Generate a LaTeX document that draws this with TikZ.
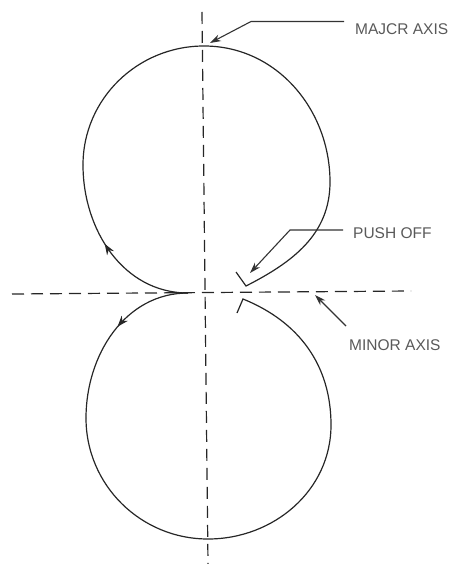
\documentclass[tikz,border=0pt]{standalone}
\usepackage{fontspec}
\setmainfont{Liberation Sans}
\usetikzlibrary{arrows.meta,decorations.markings}
\begin{document}
\begin{tikzpicture}[x=1pt,y=1pt,
 curve/.style={line width=1.2pt, draw=black!85},
 axisline/.style={line width=1.2pt, draw=black!85, dash pattern=on 12pt off 7pt},
 leader/.style={line width=1.1pt, draw=black!80, -{Stealth[length=11pt,width=7pt]}},
 lbl/.style={font=\fontsize{15.5}{18}\selectfont, text=black!65, inner sep=0pt, anchor=west},
 midarrow/.style={postaction={decorate}, decoration={markings, mark=at position #1 with {\arrow{Stealth[length=11pt,width=8pt]}}}}
]
\useasboundingbox (0,0) rectangle (455,-564);
% axes
\coordinate (vtop) at (202,-12);
\coordinate (vbot) at (208,-564);
\coordinate (hl) at (12,-294);
\coordinate (hr) at (411,-291);
\draw[axisline] (vtop) -- (vbot);
\draw[axisline] (hl) -- (hr);
% upper loop
\coordinate (C) at (188,-293);
\coordinate (L) at (83,-165);
\coordinate (T) at (204,-46);
\coordinate (R) at (330,-182);
\coordinate (E) at (246,-286);
\coordinate (Et) at (236,-272);
\draw[curve,midarrow=0.55] (C) to[out=180,in=-90] (L);
\draw[curve] (L) to[out=90,in=180] (T) to[out=0,in=90] (R) to[out=-90,in=27] (E) -- (Et);
% lower loop
\coordinate (L2) at (86,-418);
\coordinate (B) at (208,-539);
\coordinate (R2) at (331,-425);
\coordinate (E2) at (243,-299);
\coordinate (E2t) at (237,-313);
\draw[curve,midarrow=0.45] (C) to[out=180,in=90] (L2);
\draw[curve] (L2) to[out=-90,in=180] (B) to[out=0,in=-90] (R2) to[out=90,in=-22] (E2) -- (E2t);
% labels
\node[lbl] (major) at (355,-29.5) {MAJCR AXIS};
\node[lbl] (push) at (353,-233.5) {PUSH OFF};
\node[lbl] (minor) at (349,-345) {MINOR AXIS};
% leaders
\coordinate (m1) at (344,-21.5);
\coordinate (m2) at (251,-21.5);
\coordinate (mt) at (210,-43);
\draw[leader] (m1) -- (m2) -- (mt);
\coordinate (p1) at (343,-230);
\coordinate (p2) at (290,-230);
\coordinate (pt) at (250,-273);
\draw[leader] (p1) -- (p2) -- (pt);
\coordinate (n1) at (346,-326);
\coordinate (nt) at (315,-295);
\draw[leader] (n1) -- (nt);
\end{tikzpicture}
\end{document}
